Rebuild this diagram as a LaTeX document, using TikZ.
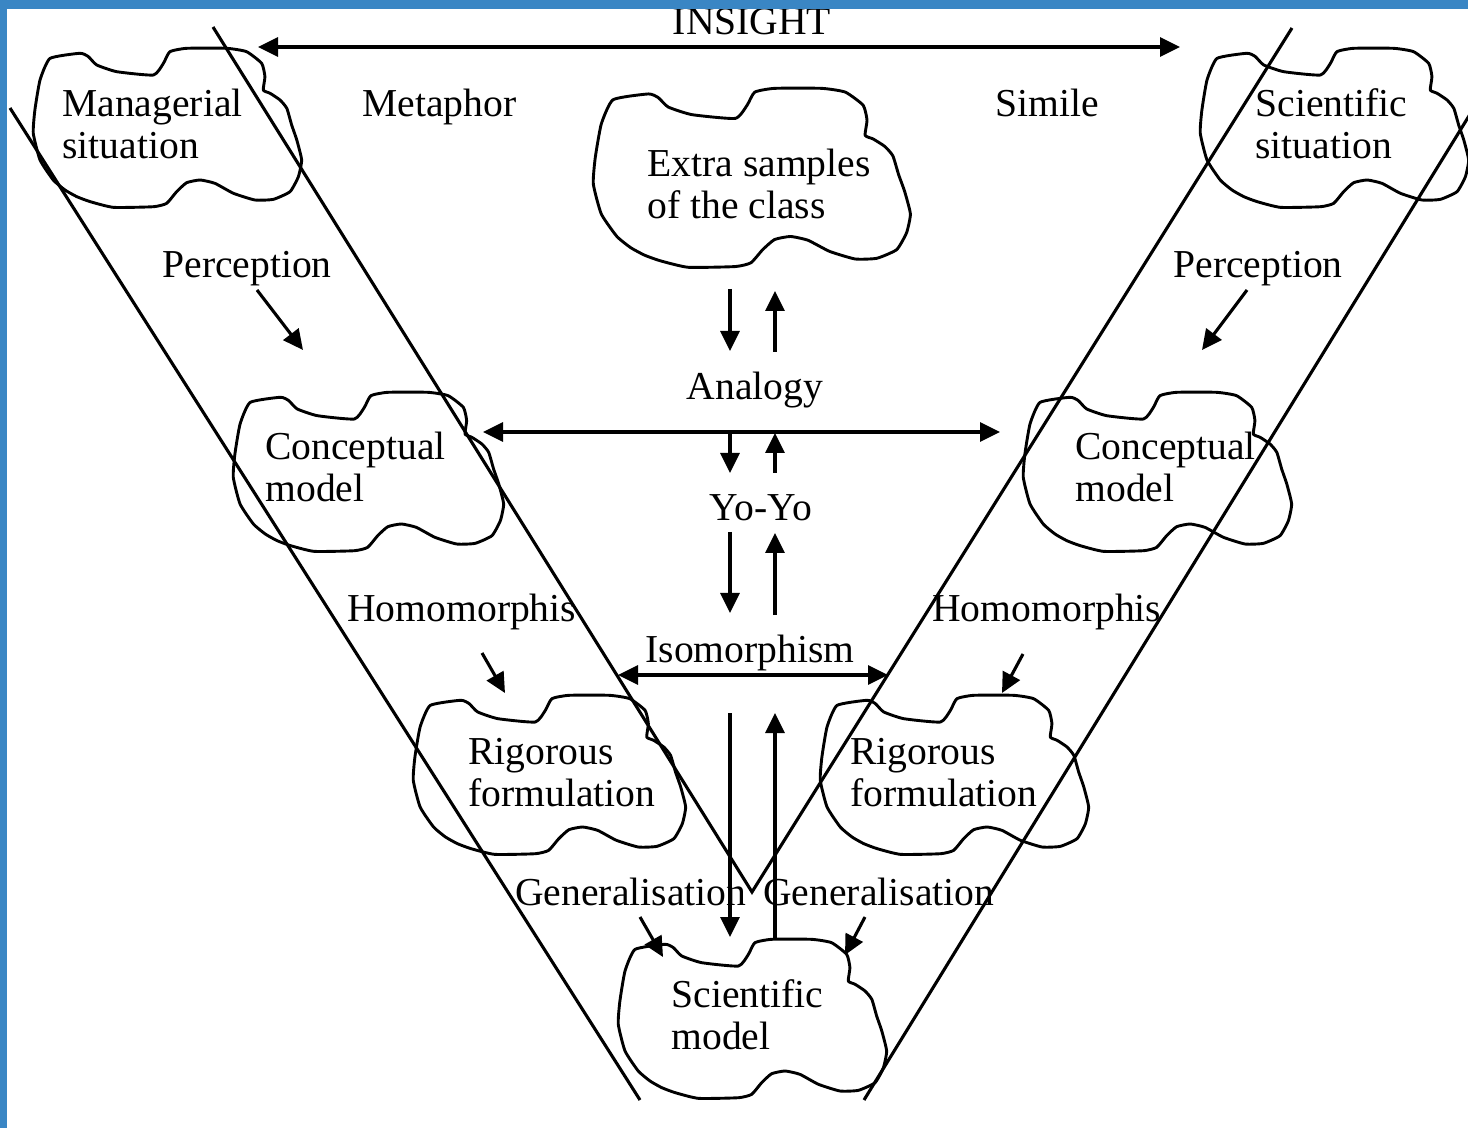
\documentclass[tikz,border=0pt]{standalone}
\usepackage{fontspec}
\setmainfont{Liberation Serif}
\usetikzlibrary{arrows.meta}
\definecolor{slideblue}{RGB}{58,134,196}
\newcommand\mycloud[4]{%
  \draw[cloudln, shift={(#1,#2)}, xscale=#3, yscale=#4]
    plot[smooth cycle, tension=0.3] coordinates {
    (0.063,0.065) (0.174,0.033) (0.205,0.054) (0.236,0.106) (0.310,0.148)
    (0.446,0.169) (0.483,0.096) (0.507,0.023) (0.569,0.002) (0.717,0.002)
    (0.791,0.023) (0.847,0.096) (0.859,0.179) (0.853,0.263) (0.878,0.283)
    (0.915,0.325) (0.940,0.377) (0.958,0.481) (0.977,0.575) (0.995,0.700)
    (0.983,0.804) (0.952,0.898) (0.890,0.946) (0.822,0.950) (0.742,0.908)
    (0.674,0.846) (0.619,0.825) (0.569,0.842) (0.532,0.898) (0.495,0.971)
    (0.446,0.992) (0.298,0.996) (0.211,0.960) (0.162,0.929) (0.119,0.888)
    (0.075,0.825) (0.026,0.700) (0.001,0.533) (0.007,0.388) (0.026,0.200)};}
\begin{document}
\begin{tikzpicture}[x=0.5pt,y=-0.5pt,
  ln/.style={line width=1.55pt},
  cloudln/.style={line width=1.45pt, line join=round},
  arr/.style={ln, -{Triangle[length=10pt,width=9.5pt]}},
  darr/.style={ln, {Triangle[length=10pt,width=9.5pt]}-{Triangle[length=10pt,width=9.5pt]}},
  lbl/.style={inner sep=0pt, font=\fontsize{19.8}{21}\selectfont, anchor=base west, align=left, yshift=-1pt},
  clbl/.style={lbl, anchor=base}]
\useasboundingbox (0,0) rectangle (1468,1128);
\begin{scope}
\clip (0,0) rectangle (1468,1128);
\fill[white] (0,0) rectangle (1468,1128);

% V-shaped bands
\coordinate (oLt) at (10,108);
\coordinate (oLb) at (640,1100);
\coordinate (iLt) at (213,27);
\coordinate (vtx) at (752,892);
\coordinate (iRt) at (1292,28);
\coordinate (oRb) at (864,1100);
\coordinate (oRt) at (1480,98);
\draw[ln] (oLt) -- (oLb);
\draw[ln] (iLt) -- (vtx) -- (iRt);
\draw[ln] (oRb) -- (oRt);

% clouds
\mycloud{33}{48}{270}{160}
\mycloud{1200}{48}{270}{160}
\mycloud{593}{88}{319}{180}
\mycloud{233}{392}{272}{160}
\mycloud{1023}{392}{270}{160}
\mycloud{413}{695}{274}{160}
\mycloud{820}{695}{270}{160}
\mycloud{618}{939}{270}{160}

% cloud texts (anchor = baseline of the last line)
\node[lbl] (mgr) at (62,157) {Managerial\\situation};
\node[lbl] (scs) at (1255,157) {Scientific\\situation};
\node[lbl] (xtr) at (647,217) {Extra samples\\of the class};
\node[lbl] (cml) at (265,500) {Conceptual\\model};
\node[lbl] (cmr) at (1075,500) {Conceptual\\model};
\node[lbl] (rfl) at (468,804) {Rigorous\\formulation};
\node[lbl] (rfr) at (850,804) {Rigorous\\formulation};
\node[lbl] (scm) at (671,1047) {Scientific\\model};

% other labels
\node[clbl] (ins) at (752,33) {INSIGHT};
\node[lbl] (met) at (362,115) {Metaphor};
\node[lbl] (sim) at (995,115) {Simile};
\node[lbl] (perl) at (162,276) {Perception};
\node[lbl] (perr) at (1173,276) {Perception};
\node[clbl] (ana) at (755,398) {Analogy};
\node[clbl] (yoyo) at (761,519) {Yo-Yo};
\node[clbl] (iso) at (750,660) {Isomorphism};
\node[lbl] (homl) at (347,620) {Homomorphis};
\node[lbl] (homr) at (932,620) {Homomorphis};
\node[lbl] (genl) at (515,903) {Generalisation};
\node[lbl] (genr) at (763,903) {Generalisation};

% horizontal double arrows
\coordinate (insA) at (258,47);  \coordinate (insB) at (1180,47);
\coordinate (anaA) at (483,432); \coordinate (anaB) at (1000,432);
\coordinate (isoA) at (618,675); \coordinate (isoB) at (888,675);
\draw[darr] (insA) -- (insB);
\draw[darr] (anaA) -- (anaB);
\draw[darr] (isoA) -- (isoB);

% vertical arrow pairs
\coordinate (d1a) at (730,289); \coordinate (d1b) at (730,351);
\coordinate (u1a) at (775,352); \coordinate (u1b) at (775,291);
\coordinate (d2a) at (730,432); \coordinate (d2b) at (730,473);
\coordinate (u2a) at (775,473); \coordinate (u2b) at (775,433);
\coordinate (d3a) at (730,532); \coordinate (d3b) at (730,613);
\coordinate (u3a) at (775,615); \coordinate (u3b) at (775,533);
\coordinate (d4a) at (730,713); \coordinate (d4b) at (730,937);
\coordinate (u4a) at (775,940); \coordinate (u4b) at (775,713);
\foreach \a/\b in {d1a/d1b,u1a/u1b,d2a/d2b,u2a/u2b,d3a/d3b,u3a/u3b,d4a/d4b,u4a/u4b}
  \draw[arr] (\a) -- (\b);

% short slanted arrows
\coordinate (pla) at (257,290);  \coordinate (plb) at (303,350);
\coordinate (pra) at (1247,290); \coordinate (prb) at (1202,350);
\coordinate (hla) at (482,653);  \coordinate (hlb) at (505,693);
\coordinate (hra) at (1023,654); \coordinate (hrb) at (1002,693);
\coordinate (gla) at (640,917);  \coordinate (glb) at (663,957);
\coordinate (gra) at (865,917);  \coordinate (grb) at (845,955);
\foreach \a/\b in {pla/plb,pra/prb,hla/hlb,hra/hrb,gla/glb,gra/grb}
  \draw[arr] (\a) -- (\b);

% slide border
\fill[slideblue] (0,0) rectangle (7,1128);
\fill[slideblue] (0,0) rectangle (1468,9);
\end{scope}
\end{tikzpicture}
\end{document}
